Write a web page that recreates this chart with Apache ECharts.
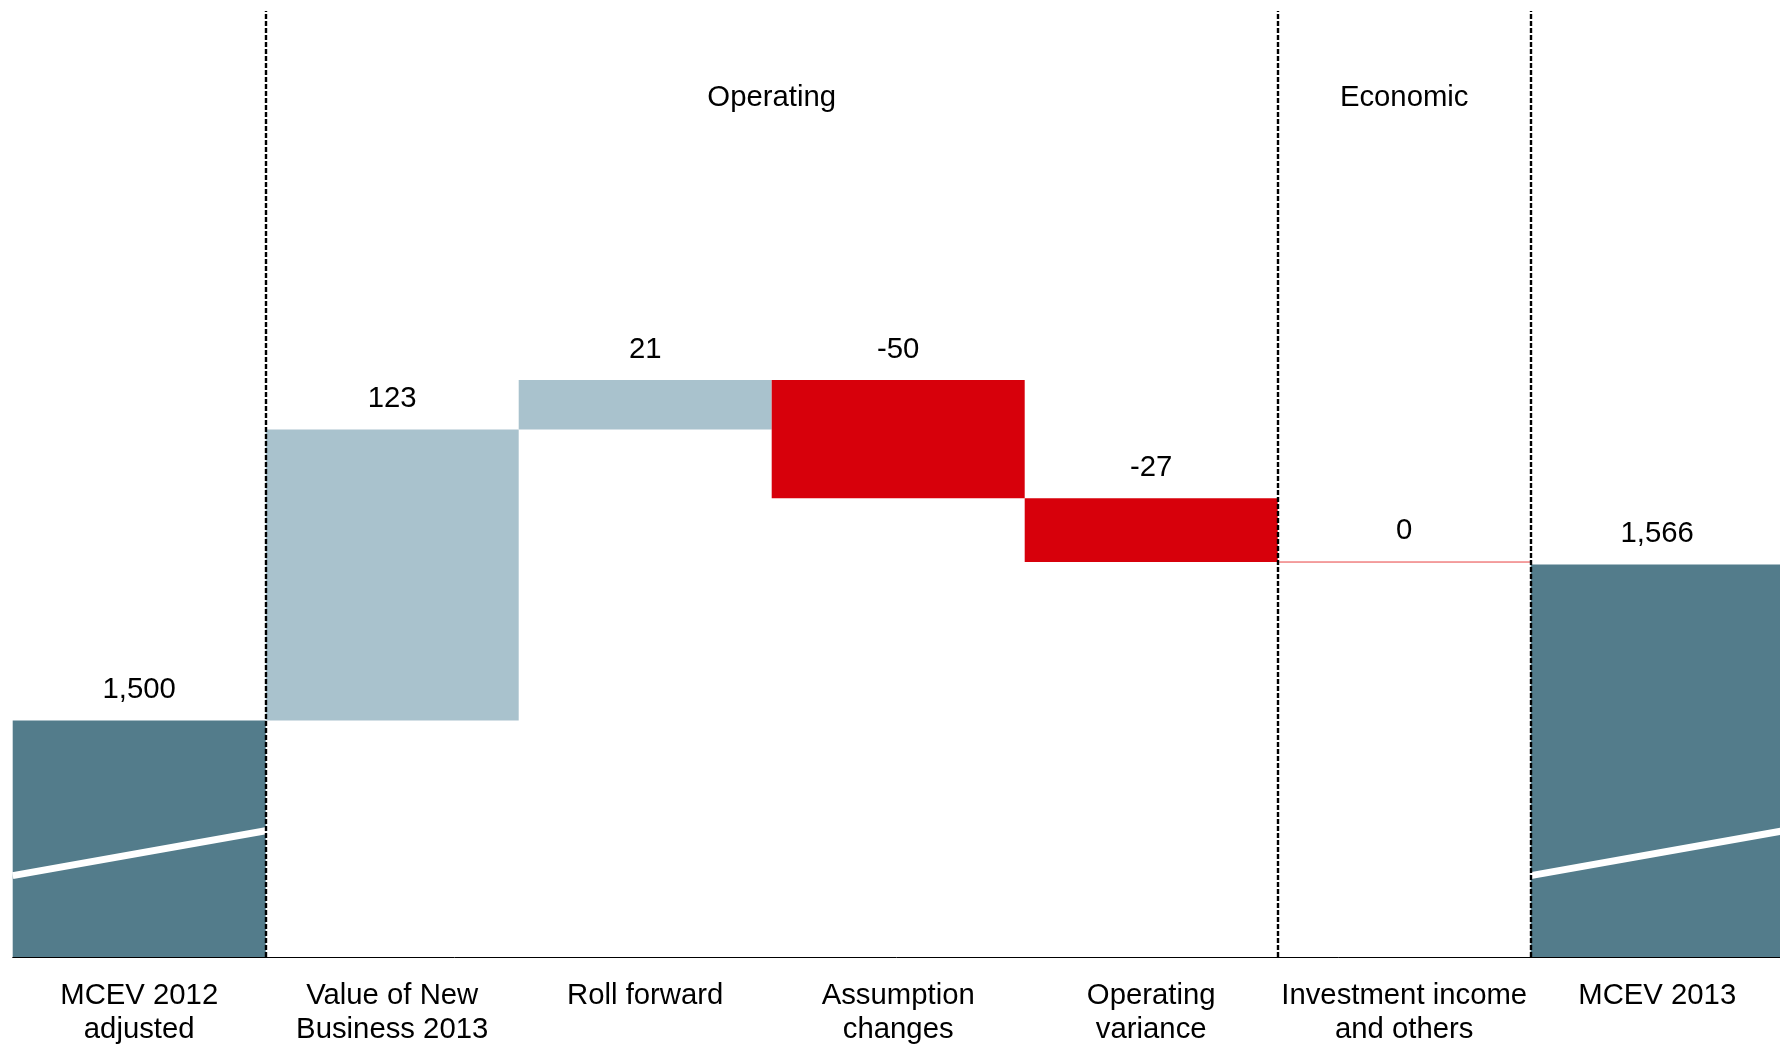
<!DOCTYPE html>
<html><head><meta charset="utf-8">
<script src="https://cdn.jsdelivr.net/npm/echarts@6/dist/echarts.min.js"></script>
<style>html,body{margin:0;padding:0;background:#fff}#c{width:1780px;height:1045px}</style>
</head><body><div id="c"></div>
<script>
const categories = ['MCEV 2012\nadjusted', 'Value of New\nBusiness 2013', 'Roll forward', 'Assumption\nchanges', 'Operating\nvariance', 'Investment income\nand others', 'MCEV 2013'];
const values = [1500, 123, 21, -50, -27, 0, 1566];
const kinds = ['total', 'delta', 'delta', 'delta', 'delta', 'delta', 'total'];
const groupNames = ['Operating', 'Economic'];
const groupSpans = [[1, 4], [5, 5]];

const DARK = '#537C8B', LIGHT = '#A9C2CD', RED = '#D7000B', ZERO = '#F08080';
const FONT = 'Liberation Sans, Arial, sans-serif';

let running = 0;
const base = [], size = [];
values.forEach((v, i) => {
  if (kinds[i] === 'total') {
    base.push(0);
    size.push({ value: v, itemStyle: { color: DARK } });
    running = v;
  } else if (v > 0) {
    base.push(running);
    size.push({ value: v, itemStyle: { color: LIGHT } });
    running += v;
  } else if (v < 0) {
    running += v;
    base.push(running);
    size.push({ value: -v, itemStyle: { color: RED } });
  } else {
    base.push(running);
    size.push({ value: 0, itemStyle: { color: ZERO, borderColor: ZERO, borderWidth: 1 } });
  }
});

const bounds = [];
groupSpans.forEach(s => { [s[0] - 0.5, s[1] + 0.5].forEach(b => { if (!bounds.includes(b)) bounds.push(b); }); });
const groupData = groupSpans.map((s, i) => ({ value: [(s[0] + s[1]) / 2, 1763.3], name: groupNames[i] }));

const fmt = v => v.toLocaleString('en-US');

const chart = echarts.init(document.getElementById('c'), null, { renderer: 'canvas' });
chart.setOption({
  animation: false,
  backgroundColor: '#ffffff',
  grid: { left: 12.7, width: 1771, top: 11, height: 946, outerBoundsMode: 'none', containLabel: false },
  xAxis: [
    {
      type: 'category', data: categories, boundaryGap: true,
      axisLine: { show: true, onZero: false, lineStyle: { color: '#000', width: 1 } },
      axisTick: { show: false },
      splitLine: { show: false },
      axisLabel: { color: '#000', fontFamily: FONT, fontSize: 29.3, lineHeight: 34, margin: 22, interval: 0 }
    },
    { type: 'value', min: -0.5, max: 6.5, show: false }
  ],
  yAxis: { type: 'value', min: 1400, max: 1800, show: false, splitLine: { show: false } },
  series: [
    {
      type: 'bar', stack: 'w', data: base, barCategoryGap: '0%',
      itemStyle: { color: 'transparent' }, silent: true
    },
    {
      type: 'bar', stack: 'w', data: size, barCategoryGap: '0%',
      label: {
        show: true, position: 'top', distance: 13.5, color: '#000',
        fontFamily: FONT, fontSize: 29.3, lineHeight: 34,
        formatter: p => fmt(values[p.dataIndex])
      }
    },
    {
      type: 'line', xAxisIndex: 1, z: 3, symbol: 'none', silent: true,
      lineStyle: { color: '#fff', width: 7 },
      data: [[-0.5, 1434.4], [0.5, 1453.4]]
    },
    {
      type: 'line', xAxisIndex: 1, z: 3, symbol: 'none', silent: true,
      lineStyle: { color: '#fff', width: 7 },
      data: [[5.5, 1434.4], [6.5, 1453.4]]
    },
    {
      type: 'scatter', xAxisIndex: 1, z: 5, symbolSize: 0, silent: true,
      itemStyle: { color: '#000' },
      data: groupData,
      label: {
        show: true, position: 'inside', color: '#000', opacity: 1,
        fontFamily: FONT, fontSize: 29.3, formatter: p => p.name
      },
      markLine: {
        silent: true, symbol: ['none', 'none'],
        label: { show: false },
        lineStyle: { color: '#000', width: 2.4, type: [5, 2] },
        data: bounds.map(b => ({ xAxis: b }))
      }
    }
  ]
});
</script>
</body></html>
